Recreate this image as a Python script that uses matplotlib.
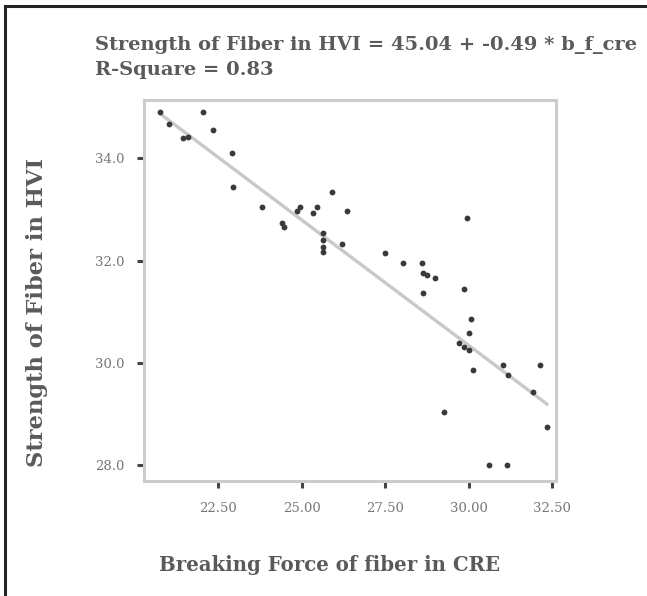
import matplotlib
matplotlib.use("Agg")
import matplotlib.pyplot as plt
from matplotlib.lines import Line2D

# Data
breaking_force = [20.75, 22.05, 21.03, 22.33, 21.45, 21.60, 22.90, 22.95, 25.90, 23.80,
                  24.95, 24.85, 25.45, 25.34, 26.34, 24.40, 24.47, 29.94, 25.64, 25.64,
                  25.64, 25.64, 26.19, 27.49, 28.04, 28.59, 28.64, 28.74, 28.99, 28.64,
                  29.84, 30.07, 29.99, 29.69, 29.84, 29.99, 30.13, 31.03, 31.18, 32.13,
                  31.93, 29.26, 32.33, 30.61, 31.13]
strength_hvi = [34.91, 34.91, 34.67, 34.55, 34.39, 34.42, 34.11, 33.44, 33.35, 33.05,
                33.04, 32.96, 33.04, 32.94, 32.96, 32.73, 32.66, 32.83, 32.53, 32.40,
                32.27, 32.17, 32.32, 32.14, 31.95, 31.95, 31.75, 31.72, 31.65, 31.36,
                31.44, 30.85, 30.58, 30.38, 30.31, 30.25, 29.86, 29.95, 29.76, 29.95,
                29.43, 29.04, 28.75, 28.00, 28.00]
intercept = 45.04
slope = -0.49
x_ticks = [22.5, 25.0, 27.5, 30.0, 32.5]
x_tick_labels = ["22.50", "25.00", "27.50", "30.00", "32.50"]
y_ticks = [28, 30, 32, 34]
y_tick_labels = ["28.0", "30.0", "32.0", "34.0"]
title_line1 = "Strength of Fiber in HVI = 45.04 + -0.49 * b_f_cre"
title_line2 = "R-Square = 0.83"
x_label = "Breaking Force of fiber in CRE"
y_label = "Strength of Fiber in HVI"

W, H = 647, 596
fig = plt.figure(figsize=(W / 100, H / 100), dpi=100)
fig.patch.set_facecolor("white")

serif = ["DejaVu Serif", "Liberation Serif"]
txt_color = "#5a5a5a"

ax = fig.add_axes([144 / W, 1 - 481 / H, (556 - 144) / W, (481 - 100) / H])
ax.set_xlim(20.27, 32.61)
ax.set_ylim(27.69, 35.14)

# regression line
x0, x1 = min(breaking_force), 32.38
ax.plot([x0, x1], [intercept + slope * x0, intercept + slope * x1],
        color="#c9c9c9", lw=2.4, solid_capstyle="butt", zorder=2)
ax.plot(breaking_force, strength_hvi, "o", ms=4.2, color="#3a3a3a",
        markeredgewidth=0, zorder=3)

for s in ax.spines.values():
    s.set_color("#cccccc")
    s.set_linewidth(2.2)

ax.set_xticks(x_ticks)
ax.set_xticklabels(x_tick_labels)
ax.set_yticks(y_ticks)
ax.set_yticklabels(y_tick_labels)
ax.tick_params(axis="both", direction="out", length=5, width=2.2, color="#444444",
               labelcolor="#777777", labelsize=9.5)
ax.tick_params(axis="x", pad=10)
ax.tick_params(axis="y", pad=9)
for lab in ax.get_xticklabels() + ax.get_yticklabels():
    lab.set_family(serif)

renderer = fig.canvas.get_renderer()


def fitted_text(x, y, s, target_px, rotation=0, ha="left"):
    t = fig.text(x / W, 1 - y / H, s, family=serif, fontsize=12,
                 fontweight="bold", color=txt_color, va="center", ha=ha,
                 rotation=rotation)
    bb = t.get_window_extent(renderer)
    size_px = bb.height if rotation else bb.width
    t.set_fontsize(12 * target_px / size_px)
    return t


t1 = fitted_text(95, 45, title_line1, 540)
t2 = fig.text(95 / W, 1 - 70 / H, title_line2, family=serif,
              fontsize=t1.get_fontsize(), fontweight="bold", color=txt_color,
              va="center", ha="left")
fitted_text(330, 565, x_label, 340, ha="center")
fitted_text(37, 312, y_label, 309, rotation=90, ha="center")

# outer border (left and top edges visible)
fig.add_artist(Line2D([5 / W, 5 / W], [0, 1 - 6 / H], transform=fig.transFigure,
                      color="#222222", lw=2.2))
fig.add_artist(Line2D([5 / W, 1], [1 - 6 / H, 1 - 6 / H], transform=fig.transFigure,
                      color="#222222", lw=2.2))

fig.savefig("out.png", dpi=100, facecolor="white")
